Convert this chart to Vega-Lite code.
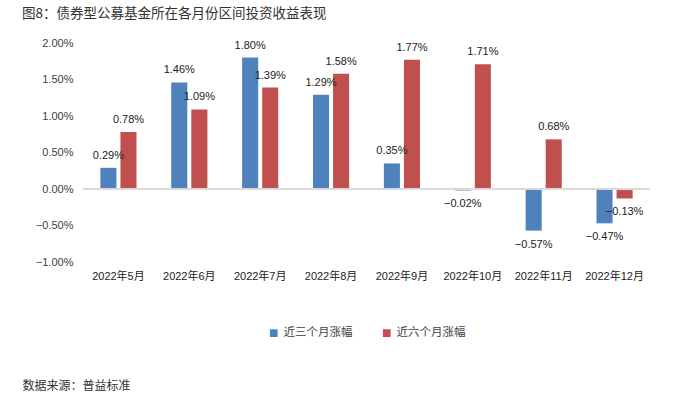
{
  "$schema": "https://vega.github.io/schema/vega-lite/v6.json",
  "width": 567,
  "height": 219,
  "autosize": {"type": "none"},
  "padding": {"left": 83, "top": 43, "right": 39, "bottom": 134},
  "background": "white",
  "title": {
    "text": "图8：债券型公募基金所在各月份区间投资收益表现",
    "anchor": "start",
    "frame": "group",
    "dx": -61,
    "offset": 17,
    "font": "Noto Sans CJK SC",
    "fontSize": 13.5,
    "fontWeight": "normal",
    "color": "#333333"
  },
  "config": {
    "view": {"stroke": null},
    "font": "Liberation Sans, Noto Sans CJK SC"
  },
  "data": {
    "values": [
      {"month": "2022年5月", "series": "近三个月涨幅", "v": 0.0029},
      {"month": "2022年5月", "series": "近六个月涨幅", "v": 0.0078},
      {"month": "2022年6月", "series": "近三个月涨幅", "v": 0.0146},
      {"month": "2022年6月", "series": "近六个月涨幅", "v": 0.0109},
      {"month": "2022年7月", "series": "近三个月涨幅", "v": 0.018},
      {"month": "2022年7月", "series": "近六个月涨幅", "v": 0.0139},
      {"month": "2022年8月", "series": "近三个月涨幅", "v": 0.0129},
      {"month": "2022年8月", "series": "近六个月涨幅", "v": 0.0158},
      {"month": "2022年9月", "series": "近三个月涨幅", "v": 0.0035},
      {"month": "2022年9月", "series": "近六个月涨幅", "v": 0.0177},
      {"month": "2022年10月", "series": "近三个月涨幅", "v": -0.0002},
      {"month": "2022年10月", "series": "近六个月涨幅", "v": 0.0171},
      {"month": "2022年11月", "series": "近三个月涨幅", "v": -0.0057},
      {"month": "2022年11月", "series": "近六个月涨幅", "v": 0.0068},
      {"month": "2022年12月", "series": "近三个月涨幅", "v": -0.0047},
      {"month": "2022年12月", "series": "近六个月涨幅", "v": -0.0013}
    ]
  },
  "encoding": {
    "x": {
      "field": "month",
      "type": "nominal",
      "sort": null,
      "scale": {"paddingInner": 0.49, "paddingOuter": 0.245},
      "axis": {
        "orient": "bottom",
        "domain": false,
        "ticks": false,
        "labelAngle": 0,
        "labelFontSize": 11,
        "labelColor": "#222222",
        "labelPadding": 8,
        "title": "数据来源：普益标准",
        "titleFont": "Noto Sans CJK SC",
        "titleFontSize": 12,
        "titleFontWeight": "normal",
        "titleColor": "#333333",
        "titleAnchor": "start",
        "titleAlign": "left",
        "titleX": -61,
        "titleY": 123,
        "titleBaseline": "middle"
      }
    },
    "xOffset": {
      "field": "series",
      "type": "nominal",
      "sort": ["近三个月涨幅", "近六个月涨幅"],
      "scale": {"paddingInner": 0.2, "paddingOuter": 0}
    },
    "y": {
      "field": "v",
      "type": "quantitative",
      "scale": {"domain": [-0.01, 0.02], "nice": false, "zero": false},
      "axis": {
        "format": ".2%",
        "values": [-0.01, -0.005, 0, 0.005, 0.01, 0.015, 0.02],
        "grid": false,
        "domain": false,
        "ticks": false,
        "labelPadding": 10,
        "labelFontSize": 11,
        "labelColor": "#404040",
        "title": null
      }
    }
  },
  "layer": [
    {
      "mark": {"type": "bar"},
      "encoding": {
        "color": {
          "field": "series",
          "type": "nominal",
          "sort": ["近三个月涨幅", "近六个月涨幅"],
          "scale": {"domain": ["近三个月涨幅", "近六个月涨幅"], "range": ["#4F81BD", "#C0504D"]},
          "legend": {
            "orient": "none",
            "legendX": 185,
            "legendY": 284,
            "direction": "horizontal",
            "title": null,
            "symbolType": "square",
            "symbolSize": 60,
            "symbolStrokeWidth": 0,
            "labelFont": "Noto Sans CJK SC",
            "labelFontSize": 11.5,
            "labelColor": "#404040",
            "columnPadding": 28
          }
        }
      }
    },
    {
      "mark": {"type": "rule", "color": "#d9d9d9", "strokeWidth": 1},
      "encoding": {"y": {"datum": 0}, "x": null, "xOffset": null}
    },
    {
      "transform": [{"filter": "datum.v >= 0"}],
      "mark": {"type": "text", "baseline": "bottom", "dy": -7, "fontSize": 11, "color": "#222222"},
      "encoding": {"text": {"field": "v", "type": "quantitative", "format": ".2%"}}
    },
    {
      "transform": [{"filter": "datum.v < 0"}],
      "mark": {"type": "text", "baseline": "top", "dy": 8, "fontSize": 11, "color": "#222222"},
      "encoding": {"text": {"field": "v", "type": "quantitative", "format": ".2%"}}
    }
  ]
}
